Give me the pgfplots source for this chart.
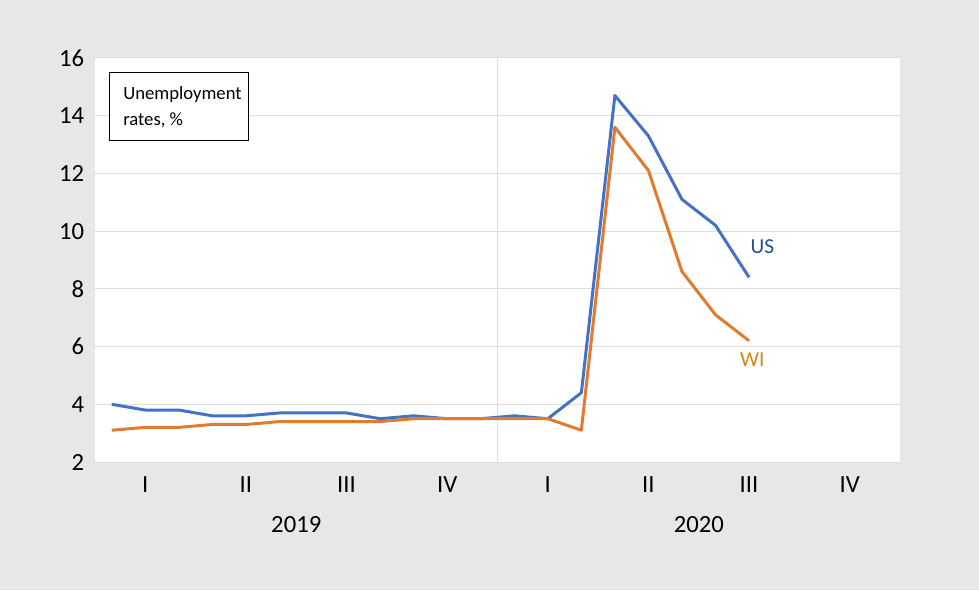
\documentclass[border=0pt]{standalone}
\usepackage{pgfplots}
\pgfplotsset{compat=1.18}
\usepackage{fontspec}
\setmainfont{Carlito}
\definecolor{bg}{HTML}{E7E7E7}
\definecolor{usline}{HTML}{4472C4}
\definecolor{wiline}{HTML}{E07B30}
\definecolor{ustext}{HTML}{1F4E96}
\definecolor{witext}{HTML}{D08A10}
\definecolor{gridc}{HTML}{DDDDDD}
\pgfplotstableread{
x us wi
0 4.0 3.1
1 3.8 3.2
2 3.8 3.2
3 3.6 3.3
4 3.6 3.3
5 3.7 3.4
6 3.7 3.4
7 3.7 3.4
8 3.5 3.4
9 3.6 3.5
10 3.5 3.5
11 3.5 3.5
12 3.6 3.5
13 3.5 3.5
14 4.4 3.1
15 14.7 13.6
16 13.3 12.1
17 11.1 8.6
18 10.2 7.1
19 8.4 6.2
}\datatable
\begin{document}
\begin{tikzpicture}
\fill[bg] (0,0) rectangle (734.25pt,442.5pt);
\useasboundingbox (0,0) rectangle (734.25pt,442.5pt);
\begin{axis}[
  at={(71.25pt,96pt)}, anchor=south west,
  scale only axis, width=603.75pt, height=303pt,
  xmin=-0.5, xmax=23.5, ymin=2, ymax=16,
  axis background/.style={fill=white},
  axis line style={draw=none},
  major tick length=0pt,
  ytick={2,4,...,16},
  xtick={1,4,7,10,13,16,19,22},
  xticklabels={I,II,III,IV,I,II,III,IV},
  ymajorgrids, grid style={gridc, line width=0.75pt},
  /pgf/number format/assume math mode=true,
  yticklabel style={font=\fontsize{18.5}{18.5}\selectfont, inner sep=0pt, xshift=-8pt},
  xticklabel style={font=\fontsize{18.5}{18.5}\selectfont, inner sep=0pt, yshift=-10.5pt},
  clip=false,
]
\draw[gridc, line width=0.75pt] (axis cs:11.5,2) -- (axis cs:11.5,16);
\addplot[usline, line width=2.25pt, line join=round] table[x=x,y=us] {\datatable};
\addplot[wiline, line width=2.25pt, line join=round] table[x=x,y=wi] {\datatable};
\node[font=\fontsize{18.5}{18.5}\selectfont] at (axis cs:5.5,2) [yshift=-47.25pt] {2019};
\node[font=\fontsize{18.5}{18.5}\selectfont] at (axis cs:17.5,2) [yshift=-47.25pt] {2020};
\node[font=\fontsize{16}{16}\selectfont, text=ustext] at (axis cs:19.4,9.45) {US};
\node[font=\fontsize{16}{16}\selectfont, text=witext] at (axis cs:19.1,5.53) {WI};
\draw[black, line width=0.75pt, fill=white] (rel axis cs:0.0174,0.9653) rectangle (rel axis cs:0.1913,0.797);
\node[anchor=north west, align=left, inner sep=0pt, font=\fontsize{14}{19.5}\selectfont]
  at (rel axis cs:0.0348,0.930) {Unemployment\\rates, \%};
\end{axis}
\end{tikzpicture}
\end{document}
